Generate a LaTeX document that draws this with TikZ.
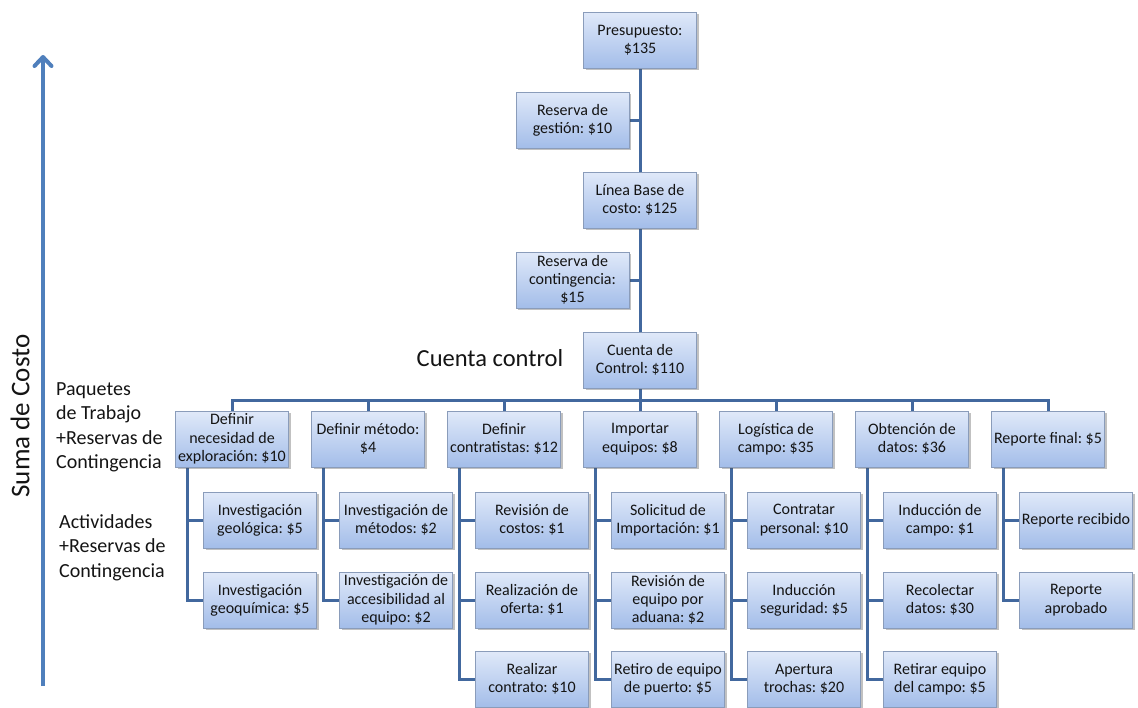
\documentclass[tikz,border=0pt]{standalone}
\usepackage{fontspec}
\setmainfont{Carlito}
\frenchspacing
\usetikzlibrary{arrows.meta,shadows,backgrounds}

\definecolor{boxtop}{RGB}{224,233,249}
\definecolor{boxbot}{RGB}{163,189,233}
\definecolor{boxedge}{RGB}{138,156,186}
\definecolor{linkblue}{RGB}{66,104,158}
\definecolor{axisblue}{RGB}{79,127,188}
\definecolor{inktext}{RGB}{20,20,20}

\tikzset{
  costbox/.style={
    rectangle, draw=boxedge, line width=0.7pt,
    top color=boxtop, bottom color=boxbot,
    minimum width=113pt, minimum height=56pt, inner sep=0pt,
    align=center, text=inktext,
    font=\fontsize{16}{18.3}\selectfont,
    drop shadow={shadow xshift=2.2pt, shadow yshift=-2.2pt, opacity=0.35, fill=black!70}
  },
  link/.style={draw=linkblue, line width=3pt},
  axisline/.style={draw=axisblue, line width=4pt, line join=round,
    -{Straight Barb[length=9pt,width=17pt,line join=round,line cap=round]}},
  sidelabel/.style={align=left, anchor=north west, inner sep=0pt, text=inktext,
    font=\fontsize{20}{24.5}\selectfont}
}

\begin{document}
\begin{tikzpicture}[x=1pt,y=-1pt]
\useasboundingbox (0,0) rectangle (1138,707);

% central column of reserves
\node[costbox] (P)  at (640,40)    {Presupuesto:\\\$135};
\node[costbox] (RG) at (572.5,120) {Reserva de\\gestión: \$10};
\node[costbox] (LB) at (640,200)   {Línea Base de\\costo: \$125};
\node[costbox] (RC) at (572.5,280) {Reserva de\\contingencia:\\\$15};
\node[costbox] (CC) at (640,360)   {Cuenta de\\Control: \$110};

\node[text=inktext, font=\fontsize{24.5}{28}\selectfont] (cclabel) at (490,358) {Cuenta control};

% work packages
\node[costbox] (A1) at (232,439)  {Definir\\necesidad de\\exploración: \$10};
\node[costbox] (A2) at (368,439)  {Definir método:\\\$4};
\node[costbox] (A3) at (504,439)  {Definir\\contratistas: \$12};
\node[costbox] (A4) at (640,439)  {Importar\\equipos: \$8};
\node[costbox] (A5) at (776,439)  {Logística de\\campo: \$35};
\node[costbox] (A6) at (912,439)  {Obtención de\\datos: \$36};
\node[costbox] (A7) at (1048,439) {Reporte final: \$5};

% activities
\node[costbox] (B1a) at (260,520) {Investigación\\geológica: \$5};
\node[costbox] (B1b) at (260,600) {Investigación\\geoquímica: \$5};

\node[costbox] (B2a) at (396,520) {Investigación de\\métodos: \$2};
\node[costbox] (B2b) at (396,600) {Investigación de\\accesibilidad al\\equipo: \$2};

\node[costbox] (B3a) at (532,520) {Revisión de\\costos: \$1};
\node[costbox] (B3b) at (532,600) {Realización de\\oferta: \$1};
\node[costbox] (B3c) at (532,679) {Realizar\\contrato: \$10};

\node[costbox] (B4a) at (668,520) {Solicitud de\\Importación: \$1};
\node[costbox] (B4b) at (668,600) {Revisión de\\equipo por\\aduana: \$2};
\node[costbox] (B4c) at (668,679) {Retiro de equipo\\de puerto: \$5};

\node[costbox] (B5a) at (804,520) {Contratar\\personal: \$10};
\node[costbox] (B5b) at (804,600) {Inducción\\seguridad: \$5};
\node[costbox] (B5c) at (804,679) {Apertura\\trochas: \$20};

\node[costbox] (B6a) at (940,520) {Inducción de\\campo: \$1};
\node[costbox] (B6b) at (940,600) {Recolectar\\datos: \$30};
\node[costbox] (B6c) at (940,679) {Retirar equipo\\del campo: \$5};

\node[costbox] (B7a) at (1076,520) {Reporte recibido};
\node[costbox] (B7b) at (1076,600) {Reporte\\aprobado};

% side labels and cost axis
\node[sidelabel] (lblWP)  at (56,382)  {Paquetes\\de Trabajo\\+Reservas de\\Contingencia};
\node[sidelabel] (lblACT) at (59,514)  {Actividades\\+Reservas de\\Contingencia};
\node[rotate=90, text=inktext, font=\fontsize{27}{30}\selectfont] (suma) at (20,416) {Suma de Costo};

\coordinate (axB) at (43,686);
\coordinate (axT) at (43,55);
\draw[axisline] (axB) -- (axT);

% connectors
\begin{scope}[on background layer]
  \draw[link] (P.south) -- (CC.north);
  \draw[link] (RG.east) -- (RG.east -| P.south);
  \draw[link] (RC.east) -- (RC.east -| P.south);

  \path (CC.south) ++(0,12) coordinate (bus);
  \draw[link] (CC.south) -- (bus);
  \draw[link] (A1.north) |- (bus) -| (A7.north);
  \foreach \n in {A2,A3,A4,A5,A6}
    \draw[link] (\n.north) -- (\n.north |- bus);

  \foreach \p/\c in {A1/B1a,A1/B1b,A2/B2a,A2/B2b,
                     A3/B3a,A3/B3b,A3/B3c,A4/B4a,A4/B4b,A4/B4c,
                     A5/B5a,A5/B5b,A5/B5c,A6/B6a,A6/B6b,A6/B6c,
                     A7/B7a,A7/B7b}
    \draw[link] ([xshift=12pt]\p.south west) |- (\c.west);
\end{scope}
\end{tikzpicture}
\end{document}
